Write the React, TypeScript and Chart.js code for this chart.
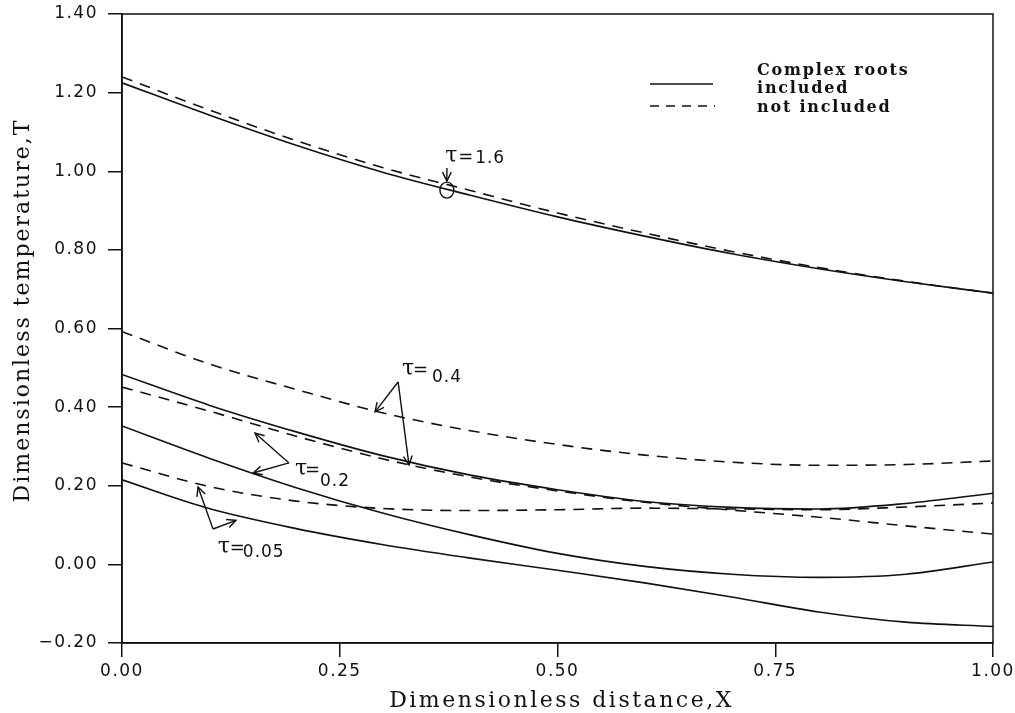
import React, { useEffect, useRef } from "react";
import { Chart, registerables } from "chart.js";

Chart.register(...registerables);

// ---------- data ----------
const xValues = [0, 0.1, 0.2, 0.3, 0.4, 0.5, 0.6, 0.7, 0.8, 0.9, 1.0];

const tau16Included = [1.225, 1.143, 1.066, 0.997, 0.939, 0.884, 0.835, 0.79, 0.752, 0.719, 0.69];
const tau16NotIncluded = [1.24, 1.156, 1.078, 1.009, 0.951, 0.894, 0.843, 0.796, 0.755, 0.72, 0.69];

const tau04Included = [0.483, 0.405, 0.337, 0.276, 0.227, 0.19, 0.16, 0.145, 0.141, 0.155, 0.181];
const tau04NotIncluded = [0.592, 0.51, 0.445, 0.385, 0.34, 0.305, 0.278, 0.26, 0.252, 0.254, 0.263];

const tau02Included = [0.352, 0.27, 0.195, 0.13, 0.075, 0.028, -0.005, -0.025, -0.033, -0.025, 0.006];
const tau02NotIncluded = [0.451, 0.39, 0.326, 0.268, 0.222, 0.187, 0.158, 0.138, 0.12, 0.098, 0.077];

const tau005Included = [0.215, 0.142, 0.091, 0.05, 0.016, -0.015, -0.047, -0.083, -0.121, -0.147, -0.158];
const tau005NotIncluded = [0.258, 0.198, 0.161, 0.142, 0.137, 0.139, 0.143, 0.141, 0.139, 0.146, 0.156];

const xMin = 0;
const xMax = 1;
const xStep = 0.25;
const yMin = -0.2;
const yMax = 1.4;
const yStep = 0.2;

const xTitle = "Dimensionless distance,X";
const yTitle = "Dimensionless temperature,T";
const legendTitle = "Complex roots";
const legendLabels = ["included", "not included"];

// annotation labels: tau value, text anchor (data coords), arrow vertex and targets (data coords)
const tauLabels = ["1.6", "0.4", "0.2", "0.05"];
const tauTextAnchors = [
  [0.371, 1.024],
  [0.3215, 0.482],
  [0.1986, 0.227],
  [0.11, 0.029],
];
const tauValueShift = [
  [30, 1],
  [30, 7],
  [25, 11],
  [25, 4],
];
const tauEqShift = [13, 11, 10, 12];
const arrowVertices = [
  [0.373, 1.008],
  [0.317, 0.464],
  [0.1917, 0.258],
  [0.1045, 0.09],
];
const arrowTargets = [
  [[0.373, 0.975]],
  [
    [0.2905, 0.388],
    [0.3295, 0.253],
  ],
  [
    [0.1527, 0.334],
    [0.1504, 0.2325],
  ],
  [
    [0.0873, 0.197],
    [0.1309, 0.112],
  ],
];
const markedPoint = [0.373, 0.952];

// ---------- styling ----------
const INK = "#111111";
const DASH = [11, 8];

function toPoints(ys: number[]) {
  return xValues.map((x, i) => ({ x, y: ys[i] }));
}

function line(label: string, ys: number[], dashed: boolean) {
  return {
    label,
    data: toPoints(ys),
    showLine: true,
    borderColor: INK,
    backgroundColor: INK,
    borderWidth: 1.6,
    borderDash: dashed ? DASH : [],
    pointRadius: 0,
    cubicInterpolationMode: "monotone" as const,
  };
}

function drawArrow(ctx: CanvasRenderingContext2D, x1: number, y1: number, x2: number, y2: number) {
  ctx.beginPath();
  ctx.moveTo(x1, y1);
  ctx.lineTo(x2, y2);
  ctx.stroke();
  const ang = Math.atan2(y2 - y1, x2 - x1);
  const len = 10;
  const spread = 0.45;
  ctx.beginPath();
  ctx.moveTo(x2 - len * Math.cos(ang - spread), y2 - len * Math.sin(ang - spread));
  ctx.lineTo(x2, y2);
  ctx.lineTo(x2 - len * Math.cos(ang + spread), y2 - len * Math.sin(ang + spread));
  ctx.stroke();
}

const spacingPlugin = {
  id: "tickSpacing",
  beforeDraw(chart: any) {
    (chart.ctx as any).letterSpacing = "1.5px";
  },
};

const decorPlugin = {
  id: "decor",
  afterDraw(chart: any) {
    const { ctx, chartArea, scales } = chart;
    const xs = scales.x;
    const ys = scales.y;
    ctx.save();
    (ctx as any).letterSpacing = "0px";
    ctx.strokeStyle = INK;
    ctx.fillStyle = INK;

    // frame
    ctx.lineWidth = 1.5;
    ctx.strokeRect(chartArea.left, chartArea.top, chartArea.right - chartArea.left, chartArea.bottom - chartArea.top);

    // arrows
    ctx.lineWidth = 1.4;
    arrowVertices.forEach((v, i) => {
      const vx = xs.getPixelForValue(v[0]);
      const vy = ys.getPixelForValue(v[1]);
      arrowTargets[i].forEach((t) => {
        drawArrow(ctx, vx, vy, xs.getPixelForValue(t[0]), ys.getPixelForValue(t[1]));
      });
    });

    // marked point circle
    ctx.beginPath();
    ctx.ellipse(xs.getPixelForValue(markedPoint[0]), ys.getPixelForValue(markedPoint[1]), 7, 8, 0, 0, Math.PI * 2);
    ctx.stroke();

    // tau labels
    tauLabels.forEach((lab, i) => {
      const ax = xs.getPixelForValue(tauTextAnchors[i][0]);
      const ay = ys.getPixelForValue(tauTextAnchors[i][1]);
      ctx.textAlign = "left";
      ctx.textBaseline = "alphabetic";
      ctx.font = "22px 'DejaVu Serif'";
      ctx.fillText("τ", ax, ay);
      ctx.font = "18px 'DejaVu Sans'";
      ctx.fillText("=", ax + tauEqShift[i], ay);
      ctx.font = "17px 'DejaVu Sans'";
      (ctx as any).letterSpacing = "1px";
      ctx.fillText(lab, ax + tauValueShift[i][0], ay + tauValueShift[i][1]);
      (ctx as any).letterSpacing = "0px";
    });

    // legend
    const lx0 = chartArea.right - 343;
    const lx1 = chartArea.right - 280;
    const tx = chartArea.right - 236;
    ctx.lineWidth = 1.6;
    ctx.setLineDash([]);
    ctx.beginPath();
    ctx.moveTo(lx0, 84);
    ctx.lineTo(lx1, 84);
    ctx.stroke();
    ctx.setLineDash([9, 7]);
    ctx.beginPath();
    ctx.moveTo(lx0, 106);
    ctx.lineTo(lx1 + 2, 106);
    ctx.stroke();
    ctx.setLineDash([]);
    ctx.font = "bold 16px 'DejaVu Serif'";
    (ctx as any).letterSpacing = "1.8px";
    ctx.fillText(legendTitle, tx, 75);
    ctx.fillText(legendLabels[0], tx, 93);
    ctx.fillText(legendLabels[1], tx, 112);

    // axis titles
    ctx.font = "22px 'DejaVu Serif'";
    (ctx as any).letterSpacing = "2.5px";
    ctx.textAlign = "center";
    ctx.fillText(xTitle, (chartArea.left + chartArea.right) / 2 + 4, 707);
    (ctx as any).letterSpacing = "2px";
    ctx.save();
    ctx.translate(29, (chartArea.top + chartArea.bottom) / 2 - 18);
    ctx.rotate(-Math.PI / 2);
    ctx.fillText(yTitle, 0, 0);
    ctx.restore();
    (ctx as any).letterSpacing = "0px";
    ctx.restore();
  },
};

function fmt(v: number) {
  const s = Math.abs(v).toFixed(2);
  return v < -1e-9 ? "\u2212" + s : s;
}

export default function App() {
  const ref = useRef<HTMLCanvasElement | null>(null);

  useEffect(() => {
    if (!ref.current) return;
    const chart = new Chart(ref.current, {
      type: "scatter",
      data: {
        datasets: [
          line("τ=1.6 included", tau16Included, false),
          line("τ=1.6 not included", tau16NotIncluded, true),
          line("τ=0.4 included", tau04Included, false),
          line("τ=0.4 not included", tau04NotIncluded, true),
          line("τ=0.2 included", tau02Included, false),
          line("τ=0.2 not included", tau02NotIncluded, true),
          line("τ=0.05 included", tau005Included, false),
          line("τ=0.05 not included", tau005NotIncluded, true),
        ],
      },
      options: {
        animation: false,
        responsive: true,
        maintainAspectRatio: false,
        layout: { padding: { left: 0, right: 22, top: 14, bottom: 0 } },
        plugins: {
          legend: { display: false },
          tooltip: { enabled: false },
        },
        scales: {
          x: {
            type: "linear",
            min: xMin,
            max: xMax,
            afterFit: (s: any) => {
              s.height = 70;
              s.paddingLeft = 0;
              s.paddingRight = 0;
            },
            ticks: {
              stepSize: xStep,
              color: INK,
              padding: 4,
              maxRotation: 0,
              font: { family: "'DejaVu Sans'", size: 17 },
              callback: (v: any) => fmt(Number(v)),
            },
            grid: { display: true, drawOnChartArea: false, drawTicks: true, tickLength: 14, color: INK, lineWidth: 1.5 },
            border: { display: true, color: INK, width: 1.5 },
          },
          y: {
            type: "linear",
            min: yMin,
            max: yMax,
            afterFit: (s: any) => {
              s.width = 122;
              s.paddingTop = 0;
              s.paddingBottom = 0;
            },
            ticks: {
              stepSize: yStep,
              color: INK,
              padding: 10,
              font: { family: "'DejaVu Sans'", size: 17 },
              callback: (v: any) => fmt(Number(v)),
            },
            grid: { display: true, drawOnChartArea: false, drawTicks: true, tickLength: 14, color: INK, lineWidth: 1.5 },
            border: { display: true, color: INK, width: 1.5 },
          },
        },
      },
      plugins: [spacingPlugin, decorPlugin],
    });
    return () => chart.destroy();
  }, []);

  return (
    <div style={{ position: "fixed", left: 0, top: 0, width: 1015, height: 713, background: "#fff" }}>
      <canvas ref={ref} />
    </div>
  );
}
